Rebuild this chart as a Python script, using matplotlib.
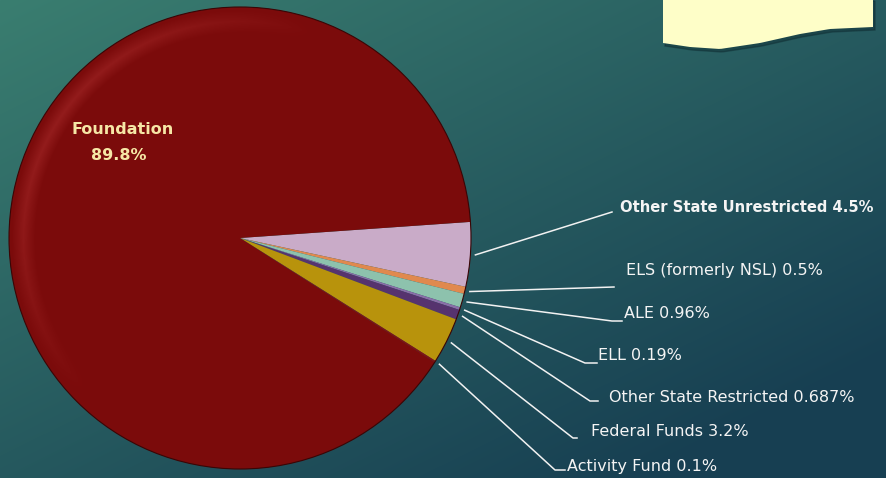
import numpy as np
import matplotlib.pyplot as plt
from matplotlib.colors import to_rgb

# slice data, clockwise from the right edge
names = ['Other State Unrestricted', 'ELS (formerly NSL)', 'ALE', 'ELL',
         'Other State Restricted', 'Federal Funds', 'Activity Fund', 'Foundation']
shares = [4.5, 0.5, 0.96, 0.19, 0.687, 3.2, 0.1, 89.8]
pct_text = ['4.5%', '0.5%', '0.96%', '0.19%', '0.687%', '3.2%', '0.1%', '89.8%']
colors = ['#c9abc8', '#e0894e', '#8dc2ad', '#8a6fa8', '#56336e', '#b8930c', '#8a1010', '#7b0b0b']

W, H = 887, 478
fig = plt.figure(figsize=(W / 100, H / 100), dpi=100)
ax = fig.add_axes([0, 0, 1, 1])

# background gradient
yy, xx = np.mgrid[0:H, 0:W]
t = np.clip(0.55 * xx / W + 0.6 * yy / H, 0, 1)[..., None]
light = np.array(to_rgb('#3a7e70'))
dark = np.array(to_rgb('#173f52'))
bg = light * (1 - t) + dark * t
ax.imshow(bg, extent=[0, W, 0, H], origin='upper', zorder=0, aspect='auto')

# pie
cx, cy, r = 240, 240, 231
wedges, _ = ax.pie(shares, colors=colors, startangle=4, counterclock=False,
                   center=(cx, cy), radius=r, frame=True,
                   wedgeprops=dict(linewidth=0))
for w in wedges:
    w.set_zorder(2)
ax.set_xlim(0, W)
ax.set_ylim(0, H)
ax.axis('off')

# soft highlight on the upper-left rim of the big slice
py = H - yy  # y up
d = np.hypot(xx - cx, py - cy)
ang = np.degrees(np.arctan2(py - cy, xx - cx)) % 360
band = np.clip(1 - np.abs((r - d) - 14) / 12, 0, 1)
fade = np.clip(np.sin(np.pi * (ang - 70) / 155), 0, 1) * ((ang > 70) & (ang < 225))
hl = np.zeros((H, W, 4))
hl[..., :3] = to_rgb('#d24848')
hl[..., 3] = 0.28 * band * fade
im = ax.imshow(hl, extent=[0, W, 0, H], origin='upper', zorder=3, aspect='auto')
im.set_clip_path(wedges[7])
ax.add_patch(plt.Circle((cx, cy), r, fill=False, lw=0.8, color='#3a0505', zorder=3))

# labels on the right with leader lines (label x, label y in image pixels)
label_pos = [(620, 207), (626, 270), (624, 314), (598, 356),
             (609, 398), (591, 432), (567, 466)]
line_end = [(612, 212), (614, 287), (612, 321), (585, 363),
            (590, 401), (573, 438), (555, 470)]
tick_len = [0, 0, 10, 12, 8, 4, 10]
for i in range(7):
    w = wedges[i]
    mid = np.deg2rad((w.theta1 + w.theta2) / 2)
    sx = cx + (r + 5) * np.cos(mid)
    sy = cy + (r + 5) * np.sin(mid)
    ex, ey = line_end[i]
    ey = H - ey
    ax.plot([sx, ex, ex + tick_len[i]], [sy, ey, ey], color='#f2f2f2', lw=1.1, zorder=4)
    lx, ly = label_pos[i]
    txt = names[i] + ' ' + pct_text[i]
    ax.text(lx, H - ly, txt, color='#f4f4f4',
            fontsize=10.6 if i == 0 else 11.5,
            fontweight='bold' if i == 0 else 'normal',
            ha='left', va='center', family='DejaVu Sans', zorder=5)

ax.text(123, H - 129, names[7], color='#f6e7a6', fontsize=11.5, fontweight='bold',
        ha='center', va='center', zorder=5)
ax.text(119, H - 155, pct_text[7], color='#f6e7a6', fontsize=11.5, fontweight='bold',
        ha='center', va='center', zorder=5)

# note box in the top right corner (wavy bottom edge)
xs = np.linspace(663, 873, 80)
bottom = np.interp(xs, [663, 690, 720, 760, 800, 830, 873], [43, 47, 49, 43, 34, 29, 27])
pts = [(663, H + 2), (873, H + 2)] + [(x, H - yv) for x, yv in zip(xs[::-1], bottom[::-1])]
shadow = plt.Polygon([(x + 2, y - 3) for x, y in pts], closed=True, color='#0e2a30', alpha=0.45, zorder=5)
ax.add_patch(shadow)
ax.add_patch(plt.Polygon(pts, closed=True, facecolor='#fefec8', edgecolor='none', zorder=6))

fig.savefig('out.png', dpi=100)
